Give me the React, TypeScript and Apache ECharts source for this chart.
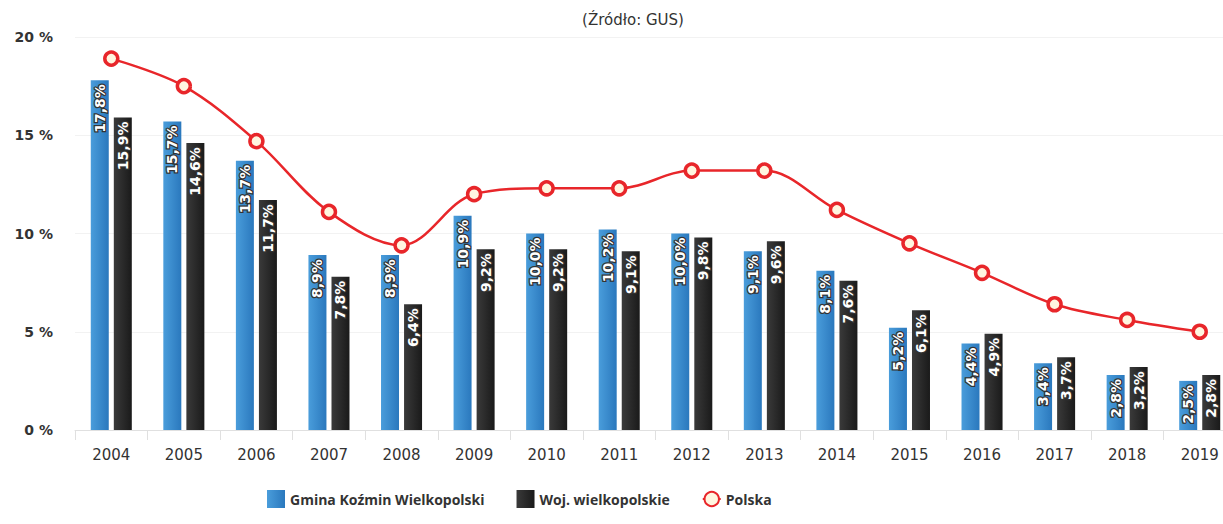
import React, { useEffect, useRef } from "react";
import * as echarts from "echarts";

const years = ["2004","2005","2006","2007","2008","2009","2010","2011","2012","2013","2014","2015","2016","2017","2018","2019"];
const gmina = [17.8, 15.7, 13.7, 8.9, 8.9, 10.9, 10.0, 10.2, 10.0, 9.1, 8.1, 5.2, 4.4, 3.4, 2.8, 2.5];
const woj = [15.9, 14.6, 11.7, 7.8, 6.4, 9.2, 9.2, 9.1, 9.8, 9.6, 7.6, 6.1, 4.9, 3.7, 3.2, 2.8];
const polska = [18.9, 17.5, 14.7, 11.1, 9.4, 12.0, 12.3, 12.3, 13.2, 13.2, 11.2, 9.5, 8.0, 6.4, 5.6, 5.0];
const yTicks = [0, 5, 10, 15, 20];

const FONT = "'DejaVu Sans', 'Open Sans', sans-serif";
const LEG_FONT = "'Open Sans', 'DejaVu Sans', sans-serif";

export default function App() {
  const ref = useRef<HTMLDivElement>(null);
  useEffect(() => {
    if (!ref.current) return;
    const chart = echarts.init(ref.current, undefined, { renderer: "svg" });
    const barLabel = {
      show: true,
      position: "insideTop",
      rotate: 90,
      align: "right",
      verticalAlign: "middle",
      distance: 4,
      formatter: (p: any) => String(p.value.toFixed(1)).replace(".", ",") + "%",
      color: "#ffffff",
      fontFamily: FONT,
      fontWeight: "bold",
      fontSize: 14,
      textBorderColor: "#333",
      textBorderWidth: 2.5,
    };
    chart.setOption({
      animation: false,
      title: {
        text: "(Źródło: GUS)",
        left: 628,
        textAlign: "center",
        top: 7,
        textStyle: { fontFamily: FONT, fontSize: 15, fontWeight: "normal", color: "#333" },
      },
      grid: { left: 75, top: 37, width: 1161, bottom: 94 },
      legend: {
        left: 262,
        top: 485,
        itemWidth: 18,
        itemHeight: 18,
        itemGap: 32,
        textStyle: { fontFamily: LEG_FONT, fontSize: 14, fontWeight: "bold", color: "#333" },
        data: [
          { name: "Gmina Koźmin Wielkopolski", icon: "rect" },
          { name: "Woj. wielkopolskie", icon: "rect" },
          { name: "Polska" },
        ],
      },
      xAxis: {
        type: "category",
        data: years,
        axisLine: { lineStyle: { color: "#e0e0e0" } },
        axisTick: { show: true, length: 10, lineStyle: { color: "#e0e0e0" } },
        axisLabel: { fontFamily: FONT, fontSize: 15, color: "#333", margin: 17 },
      },
      yAxis: {
        type: "value",
        min: 0,
        max: 20,
        interval: 5,
        axisLine: { show: false },
        axisTick: { show: false },
        splitLine: { lineStyle: { color: "#f2f2f2" } },
        axisLabel: {
          fontFamily: FONT,
          fontSize: 14,
          fontWeight: "bold",
          color: "#333",
          margin: 22,
          formatter: (v: number) => (yTicks.includes(v) ? v + " %" : ""),
        },
      },
      series: [
        {
          name: "Gmina Koźmin Wielkopolski",
          type: "bar",
          data: gmina,
          barWidth: 18,
          barGap: "28%",
          itemStyle: {
            color: new echarts.graphic.LinearGradient(0, 0, 1, 0, [
              { offset: 0, color: "#4a9ddb" },
              { offset: 1, color: "#2a78bd" },
            ]),
          },
          label: barLabel,
        },
        {
          name: "Woj. wielkopolskie",
          type: "bar",
          data: woj,
          barWidth: 18,
          itemStyle: {
            color: new echarts.graphic.LinearGradient(0, 0, 1, 0, [
              { offset: 0, color: "#3a3a3a" },
              { offset: 1, color: "#1a1a1a" },
            ]),
          },
          label: barLabel,
        },
        {
          name: "Polska",
          type: "line",
          data: polska,
          smooth: 0.35,
          symbol: "circle",
          symbolSize: 13,
          lineStyle: { color: "#e8262a", width: 2.5 },
          itemStyle: { color: "#fff6e0", borderColor: "#e8262a", borderWidth: 3.5 },
          z: 5,
        },
      ],
    });
    return () => chart.dispose();
  }, []);
  return (
    <div
      ref={ref}
      style={{ position: "absolute", left: 0, top: 0, width: 1240, height: 524 }}
    />
  );
}
